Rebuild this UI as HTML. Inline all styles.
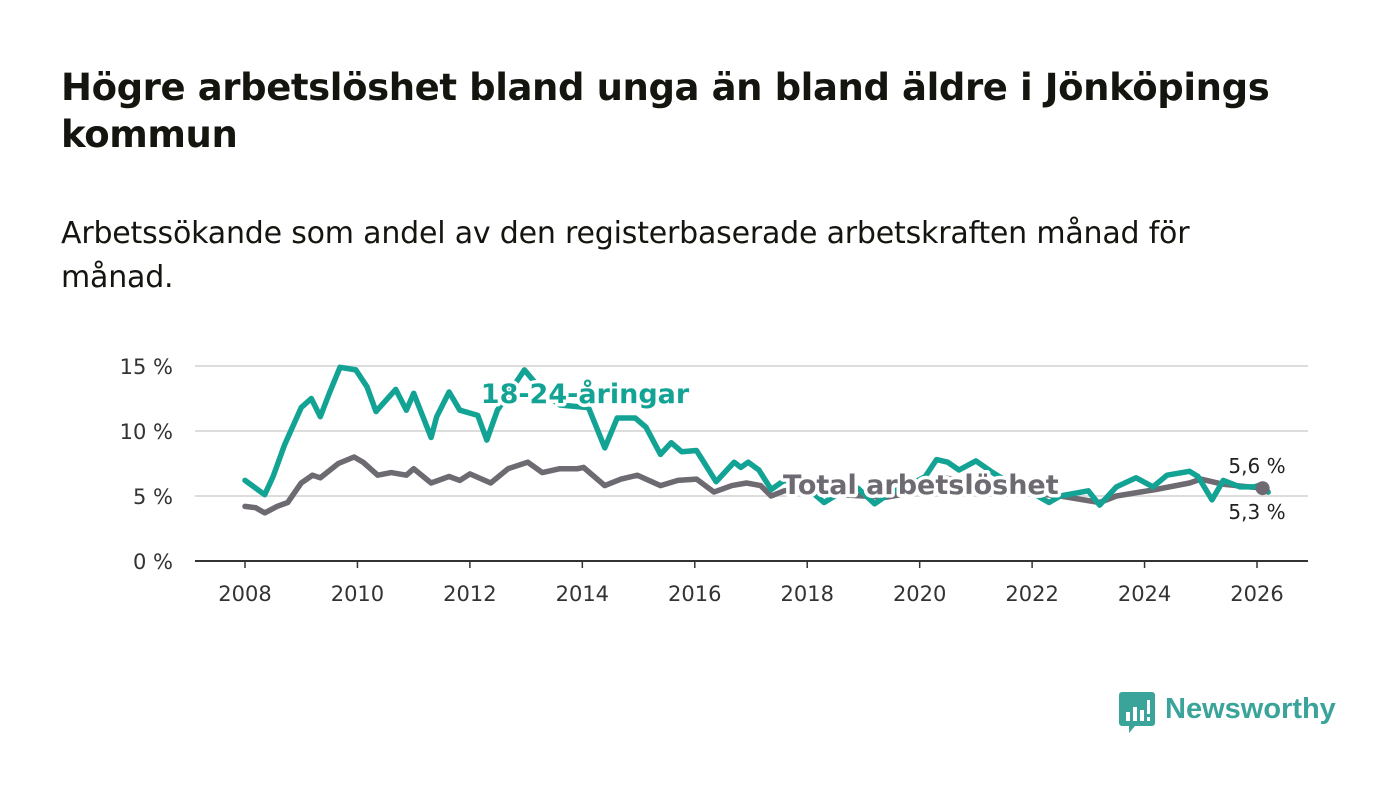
<!DOCTYPE html>
<html><head><meta charset="utf-8">
<style>
body{margin:0;background:#fff;width:1400px;height:794px;overflow:hidden;font-family:"Liberation Sans","DejaVu Sans",sans-serif;}
h1{position:absolute;left:61px;top:64px;margin:0;font-size:37px;line-height:47px;font-weight:bold;color:#151510;width:1290px;font-family:"DejaVu Sans","Liberation Sans",sans-serif;letter-spacing:-0.4px}
p{position:absolute;left:61px;top:212px;margin:0;font-size:30px;line-height:44px;color:#151510;width:1200px;font-family:"DejaVu Sans","Liberation Sans",sans-serif;letter-spacing:-0.2px}
svg{position:absolute;left:0;top:0}
</style></head><body>
<h1>Högre arbetslöshet bland unga än bland äldre i Jönköpings kommun</h1>
<p>Arbetssökande som andel av den registerbaserade arbetskraften månad för månad.</p>
<svg id="c" width="1400" height="794"></svg>
<div style="position:absolute;left:1119px;top:692px;display:flex;align-items:center;">
<svg width="36" height="42" style="position:static"><path d="M3 0h30a3 3 0 0 1 3 3v28a3 3 0 0 1-3 3H16l-6 7v-7H3a3 3 0 0 1-3-3V3a3 3 0 0 1 3-3z" fill="#3aa39a"/><rect x="7" y="20" width="4" height="9" fill="#fff"/><rect x="14" y="15" width="4" height="14" fill="#fff"/><rect x="21" y="18" width="4" height="11" fill="#fff"/><rect x="28" y="8" width="3" height="14" fill="#fff"/><rect x="28" y="25" width="3" height="4" fill="#fff"/></svg>
<span style="font-size:29px;font-weight:bold;color:#3aa39a;margin-left:10px;margin-top:-8px;font-family:'Liberation Sans',sans-serif">Newsworthy</span></div>
<script>
const youthYears=[2008.0,2008.35,2008.5,2008.7,2009.0,2009.18,2009.34,2009.5,2009.69,2009.97,2010.17,2010.33,2010.68,2010.87,2011.0,2011.31,2011.41,2011.63,2011.82,2012.14,2012.3,2012.49,2012.97,2013.3,2013.6,2014.11,2014.4,2014.62,2014.94,2015.13,2015.39,2015.58,2015.77,2016.03,2016.38,2016.7,2016.82,2016.95,2017.14,2017.36,2017.59,2017.8,2018.0,2018.3,2018.6,2018.9,2019.2,2019.5,2019.8,2020.1,2020.3,2020.5,2020.7,2021.0,2021.3,2021.6,2021.9,2022.1,2022.3,2022.5,2023.0,2023.2,2023.5,2023.85,2024.15,2024.4,2024.8,2024.95,2025.2,2025.4,2025.7,2025.95,2026.1,2026.2];
const youthVals=[6.2,5.1,6.5,8.9,11.8,12.5,11.1,12.9,14.9,14.7,13.4,11.5,13.2,11.6,12.9,9.5,11.1,13.0,11.6,11.2,9.3,11.6,14.7,13.0,12.0,11.8,8.7,11.0,11.0,10.3,8.2,9.1,8.4,8.5,6.1,7.6,7.2,7.6,7.0,5.5,6.2,6.0,5.6,4.5,5.3,5.6,4.4,5.3,5.8,6.5,7.8,7.6,7.0,7.7,6.8,6.0,5.5,5.0,4.5,5.0,5.4,4.3,5.7,6.4,5.7,6.6,6.9,6.5,4.7,6.2,5.7,5.7,5.9,5.3];
const totalYears=[2008.0,2008.19,2008.35,2008.57,2008.76,2009.0,2009.2,2009.34,2009.66,2009.94,2010.1,2010.36,2010.6,2010.87,2011.0,2011.31,2011.63,2011.82,2012.0,2012.37,2012.68,2013.03,2013.29,2013.6,2013.92,2014.02,2014.4,2014.69,2014.98,2015.39,2015.7,2016.03,2016.34,2016.66,2016.92,2017.17,2017.36,2017.59,2017.8,2018.2,2018.6,2019.0,2019.4,2019.8,2020.2,2020.4,2020.8,2021.2,2021.6,2022.0,2022.5,2023.2,2023.5,2024.2,2024.8,2025.0,2025.4,2026.1];
const totalVals=[4.2,4.1,3.7,4.2,4.5,6.0,6.6,6.4,7.5,8.0,7.6,6.6,6.8,6.6,7.1,6.0,6.5,6.2,6.7,6.0,7.1,7.6,6.8,7.1,7.1,7.2,5.8,6.3,6.6,5.8,6.2,6.3,5.3,5.8,6.0,5.8,5.0,5.4,5.5,5.3,5.1,5.0,4.9,5.2,5.8,6.4,6.2,6.0,5.6,5.2,5.0,4.5,5.0,5.5,6.0,6.3,5.9,5.6];
const yTicks=[0,5,10,15];
const xTicks=[2008,2010,2012,2014,2016,2018,2020,2022,2024,2026];
const X=y=>245+(y-2008)*(1257-245)/18;
const Y=v=>561-v*13;
const NS='http://www.w3.org/2000/svg';
const svg=document.getElementById('c');
function mk(t,a){const e=document.createElementNS(NS,t);for(const k in a)e.setAttribute(k,a[k]);svg.appendChild(e);return e;}
yTicks.forEach(v=>{
 const l=mk('line',{x1:195,x2:1308,y1:Y(v),y2:Y(v),stroke:v===0?'#333':'#ddd','stroke-width':2});
 
 
 const t=mk('text',{x:173,y:Y(v)+8,'text-anchor':'end','font-size':21,fill:'#333','font-family':'DejaVu Sans,Liberation Sans,sans-serif'});
 t.textContent=v+' %';
 
 
});
xTicks.forEach(y=>{
 const l=mk('line',{x1:X(y),x2:X(y),y1:561,y2:568,stroke:'#333','stroke-width':1.5});
 
 
 const t=mk('text',{x:X(y),y:601,'text-anchor':'middle','font-size':21,fill:'#333','font-family':'DejaVu Sans,Liberation Sans,sans-serif'});
 t.textContent=y;
 
 
});
function line(xs,vs,col,name){
 const d=xs.map((x,i)=>(i?'L':'M')+X(x).toFixed(1)+' '+Y(vs[i]).toFixed(1)).join('');
 const p=mk('path',{d:d,fill:'none',stroke:col,'stroke-width':5.5,'stroke-linejoin':'round','stroke-linecap':'round'});
 
 
}
line(totalYears,totalVals,'#6d6a72','total-line');
line(youthYears,youthVals,'#13a395','youth-line');
const dot=mk('circle',{cx:X(totalYears[totalYears.length-1]),cy:Y(totalVals[totalVals.length-1]),r:7,fill:'#6d6a72'});


function lab(txt,x,y,col,fs,w,name,anchor){
 const t=mk('text',{x:x,y:y,fill:col,'font-size':fs,'font-weight':w,stroke:'#fff','stroke-width':7,'paint-order':'stroke','stroke-linejoin':'round','text-anchor':anchor||'start','font-family':'DejaVu Sans,Liberation Sans,sans-serif'});
 t.textContent=txt;
 
 
}
lab('18-24-åringar',585,403,'#13a395',27,'bold','youth-series-label','middle');
lab('Total arbetslöshet',783,494,'#6d6a72',27,'bold','total-series-label');
lab('5,6 %',1257,473,'#222',20,'normal','total-end-value','middle');
lab('5,3 %',1257,519,'#222',20,'normal','youth-end-value','middle');
</script>
</body></html>
